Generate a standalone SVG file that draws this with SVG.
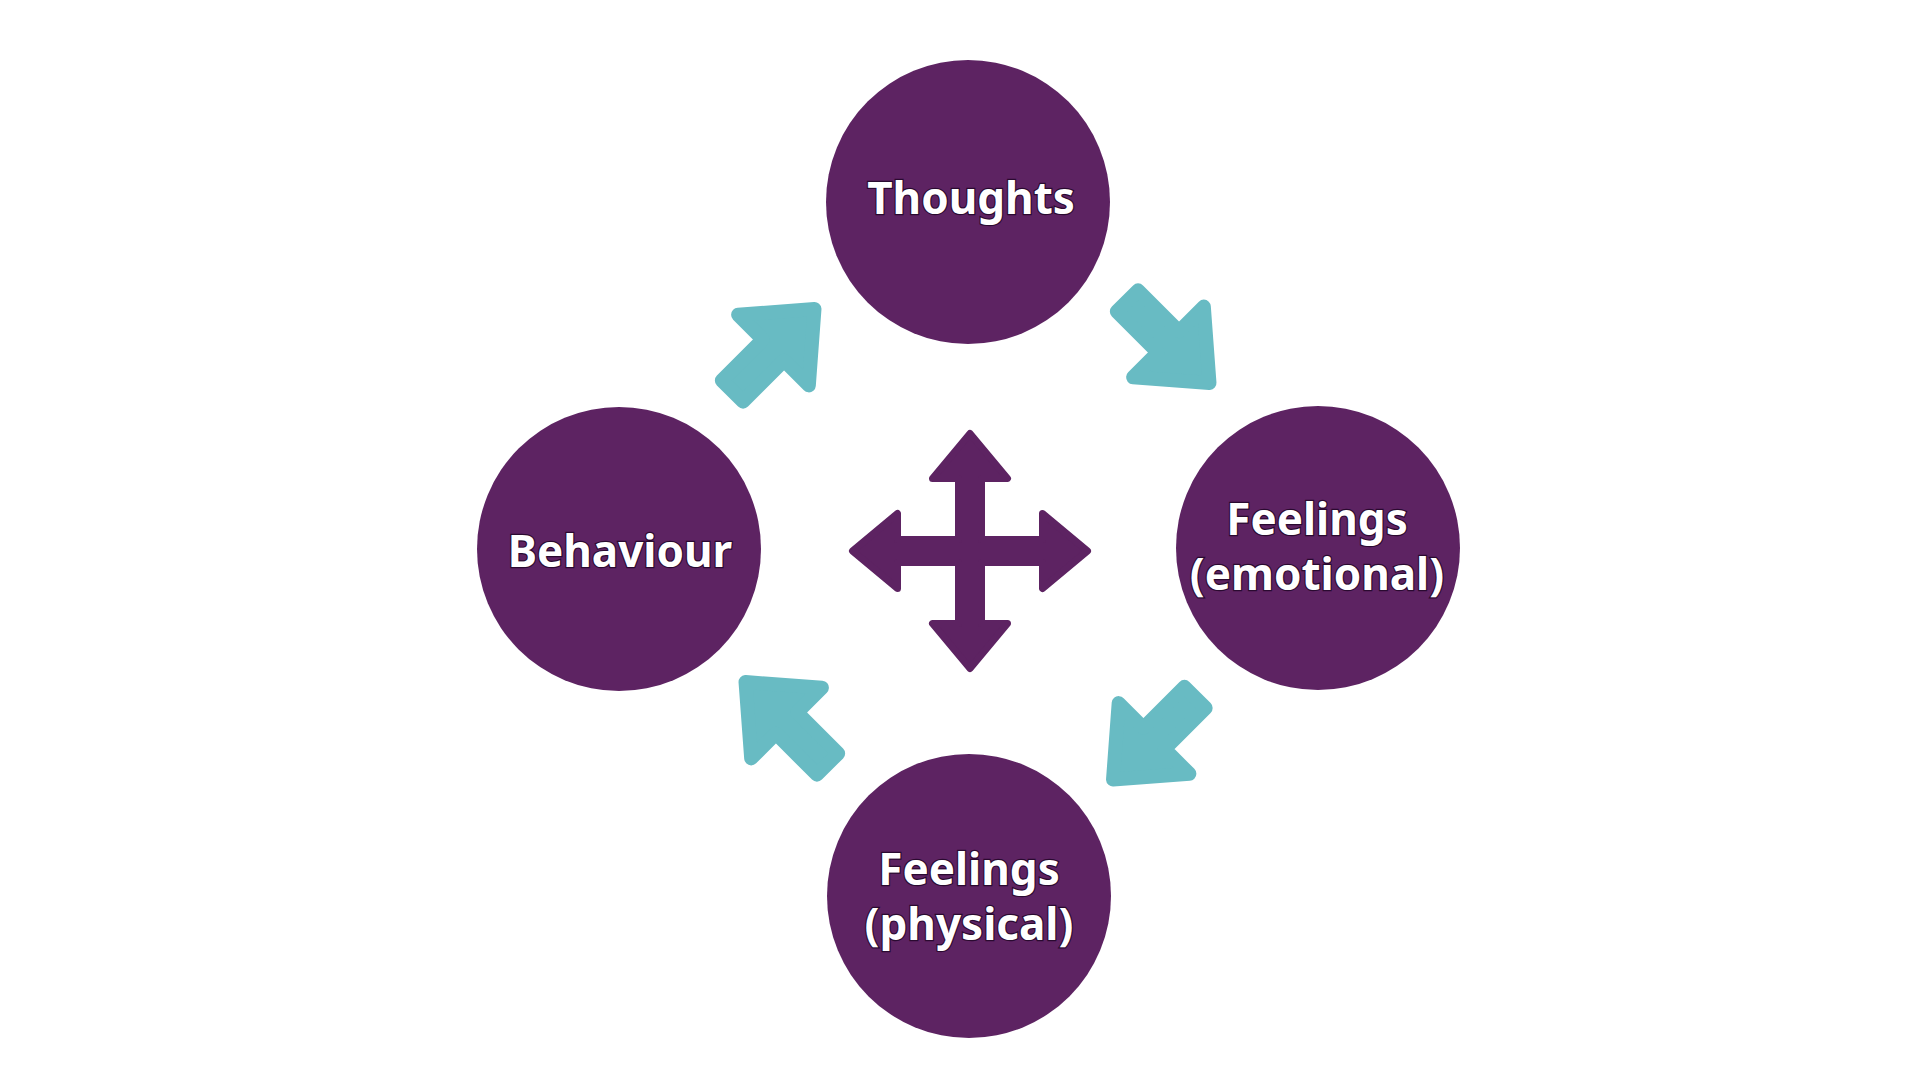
<svg xmlns="http://www.w3.org/2000/svg" width="1920" height="1080" viewBox="0 0 1920 1080">
  <style>
    .node { fill: #5D2362; }
    .label { font-family: "Noto Sans", "Liberation Sans", sans-serif; font-weight: 700; font-size: 44px; fill: #FFFFFF; stroke: #2A0A30; stroke-width: 2.4; paint-order: stroke; text-anchor: middle; }
    .teal { fill: #68BBC3; stroke: #68BBC3; stroke-width: 14; stroke-linejoin: round; }
    .cross { fill: #5D2362; stroke: #5D2362; stroke-width: 7; stroke-linejoin: round; }
  </style>
  <defs>
    <path id="arrow" d="M7,-15 L65,-15 L65,-50 L123,0 L65,50 L65,15 L7,15 Z"/>
  </defs>
  <rect x="0" y="0" width="1920" height="1080" fill="#FFFFFF"/>

  <g id="connectors">
    <use href="#arrow" class="teal" transform="translate(727.5,396) rotate(-45)"/>
    <use href="#arrow" class="teal" transform="translate(1122.5,296) rotate(45)"/>
    <use href="#arrow" class="teal" transform="translate(1200,692.5) rotate(135)"/>
    <use href="#arrow" class="teal" transform="translate(832.5,769) rotate(225)"/>
  </g>

  <g id="center-cross">
    <path class="cross" transform="translate(970,551)" d="M0,-117.5 L37.5,-72.5 L11.5,-72.5 L11.5,-11.5 L72.5,-11.5 L72.5,-37.5 L117.5,0 L72.5,37.5 L72.5,11.5 L11.5,11.5 L11.5,72.5 L37.5,72.5 L0,117.5 L-37.5,72.5 L-11.5,72.5 L-11.5,11.5 L-72.5,11.5 L-72.5,37.5 L-117.5,0 L-72.5,-37.5 L-72.5,-11.5 L-11.5,-11.5 L-11.5,-72.5 L-37.5,-72.5 Z"/>
  </g>

  <g id="node-thoughts">
    <circle class="node" cx="968" cy="202" r="142"/>
    <text class="label" x="971" y="214">Thoughts</text>
  </g>

  <g id="node-feelings-emotional">
    <circle class="node" cx="1318" cy="548" r="142"/>
    <text class="label" x="1317" y="535">Feelings</text>
    <text class="label" x="1317" y="590">(emotional)</text>
  </g>

  <g id="node-feelings-physical">
    <circle class="node" cx="969" cy="896" r="142"/>
    <text class="label" x="969" y="885">Feelings</text>
    <text class="label" x="969" y="940">(physical)</text>
  </g>

  <g id="node-behaviour">
    <circle class="node" cx="619" cy="549" r="142"/>
    <text class="label" x="620" y="567">Behaviour</text>
  </g>
</svg>
